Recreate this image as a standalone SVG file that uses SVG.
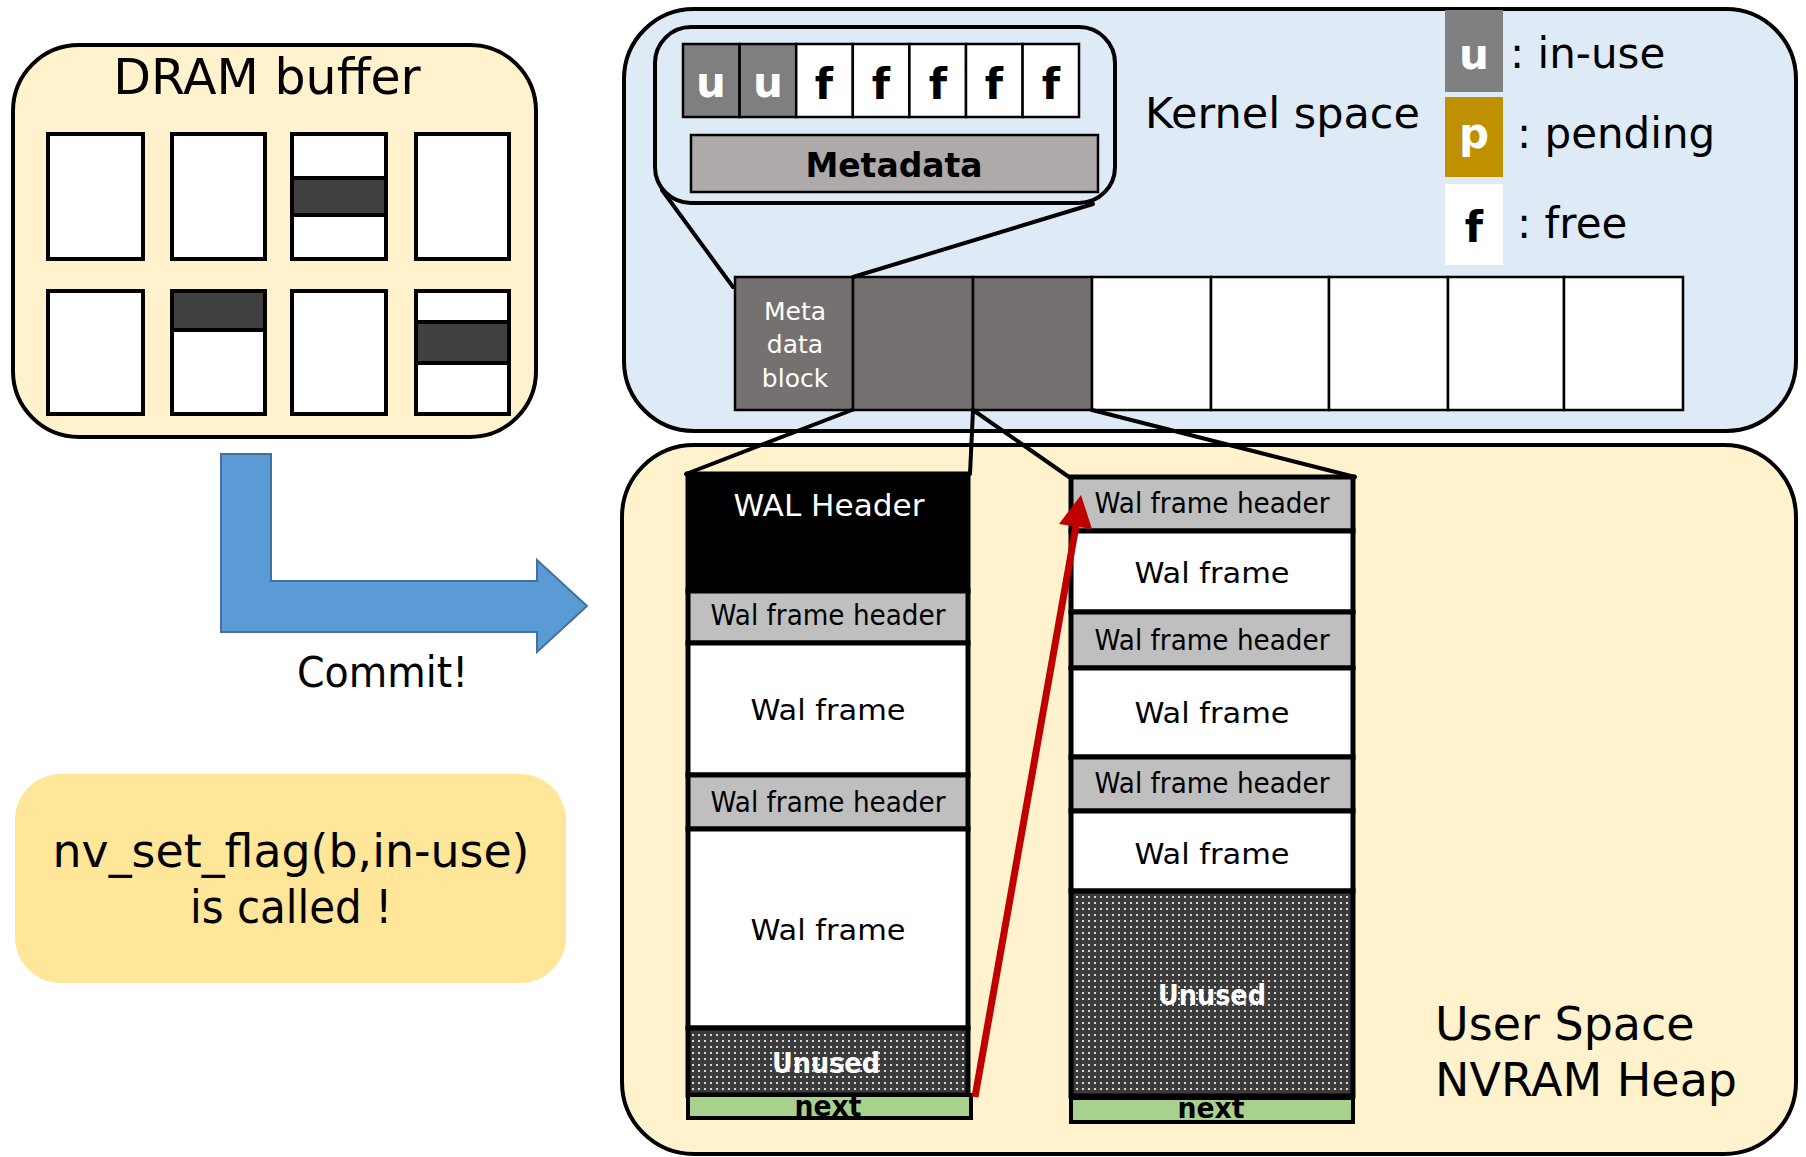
<svg xmlns="http://www.w3.org/2000/svg" width="1806" height="1157" viewBox="0 0 1806 1157">
  <defs>
    <style>
      text { font-family: "DejaVu Sans", "Noto Sans", sans-serif; }
      .box { stroke: #000; stroke-width: 4; }
      .cell { stroke: #000; stroke-width: 2.5; }
      .seg { stroke: #000; stroke-width: 5; }
      .wire { stroke: #000; stroke-width: 4; fill: none; stroke-linecap: round; }
      .mid { text-anchor: middle; }
      .bold { font-weight: bold; }
      .lbl { font-size: 28px; fill: #000; }
    </style>
    <pattern id="dots" width="6" height="6" patternUnits="userSpaceOnUse">
      <rect width="6" height="6" fill="#3b3b3b"/>
      <circle cx="3" cy="3" r="1.1" fill="#ffffff"/>
    </pattern>
  </defs>

  <rect width="1806" height="1157" fill="#ffffff"/>

  <!-- DRAM buffer -->
  <g id="dram-buffer">
    <rect class="box" x="13" y="45" width="523" height="392" rx="66" fill="#fff2cc"/>
    <text x="267" y="94" class="mid" font-size="49">DRAM buffer</text>
    <g fill="#ffffff" stroke="#000" stroke-width="4">
      <rect x="48" y="134" width="95" height="125"/>
      <rect x="172" y="134" width="93" height="125"/>
      <rect x="292" y="134" width="94" height="125"/>
      <rect x="416" y="134" width="93" height="125"/>
      <rect x="48" y="291" width="95" height="123"/>
      <rect x="172" y="291" width="93" height="123"/>
      <rect x="292" y="291" width="94" height="123"/>
      <rect x="416" y="291" width="93" height="123"/>
    </g>
    <g fill="#404040" stroke="#000" stroke-width="4">
      <rect x="292" y="178" width="94" height="37"/>
      <rect x="172" y="291" width="93" height="39"/>
      <rect x="416" y="322" width="93" height="41"/>
    </g>
  </g>

  <!-- Commit arrow -->
  <g id="commit">
    <polygon points="221,454 271,454 271,581 537,581 537,560 587,606 537,652 537,632 221,632" fill="#5b9bd5" stroke="#41719c" stroke-width="2"/>
    <text x="297" y="687" font-size="42" textLength="171" lengthAdjust="spacingAndGlyphs">Commit!</text>
  </g>

  <!-- call note -->
  <g id="call-note">
    <rect x="15" y="774" width="551" height="209" rx="46" fill="#ffe699"/>
    <text x="291" y="867" class="mid" font-size="46" textLength="477" lengthAdjust="spacingAndGlyphs">nv_set_flag(b,in-use)</text>
    <text x="291" y="923" class="mid" font-size="46" textLength="202" lengthAdjust="spacingAndGlyphs">is called !</text>
  </g>

  <!-- Kernel space -->
  <g id="kernel-space">
    <rect class="box" x="624" y="9" width="1172" height="422" rx="70" fill="#deebf7"/>
    <text x="1145" y="128" font-size="43">Kernel space</text>

    <!-- legend -->
    <rect x="1445" y="10" width="58" height="82" fill="#808080"/>
    <rect x="1445" y="97" width="58" height="80" fill="#bf9000"/>
    <rect x="1445" y="184" width="58" height="81" fill="#ffffff"/>
    <text x="1474" y="69" class="mid bold" font-size="42" fill="#ffffff">u</text>
    <text x="1474" y="148" class="mid bold" font-size="42" fill="#ffffff">p</text>
    <text x="1474" y="242" class="mid bold" font-size="42">f</text>
    <text x="1510" y="68" font-size="42">: in-use</text>
    <text x="1517" y="148" font-size="42">: pending</text>
    <text x="1517" y="238" font-size="42">: free</text>

    <!-- block strip -->
    <g class="cell">
      <rect x="735" y="277" width="118" height="133" fill="#767171"/>
      <rect x="853" y="277" width="120" height="133" fill="#767171"/>
      <rect x="973" y="277" width="119" height="133" fill="#767171"/>
      <rect x="1092" y="277" width="119" height="133" fill="#ffffff"/>
      <rect x="1211" y="277" width="118" height="133" fill="#ffffff"/>
      <rect x="1329" y="277" width="119" height="133" fill="#ffffff"/>
      <rect x="1448" y="277" width="116" height="133" fill="#ffffff"/>
      <rect x="1564" y="277" width="119" height="133" fill="#ffffff"/>
    </g>
    <g class="mid" font-size="25" fill="#ffffff">
      <text x="795" y="320">Meta</text>
      <text x="795" y="353">data</text>
      <text x="795" y="387">block</text>
    </g>
  </g>

  <!-- Metadata callout -->
  <g id="metadata-detail">
    <rect class="box" x="655" y="27" width="460" height="176" rx="36" fill="#deebf7"/>
    <g class="cell">
      <rect x="683" y="44" width="56.6" height="73" fill="#7f7f7f"/>
      <rect x="739.6" y="44" width="56.6" height="73" fill="#7f7f7f"/>
      <rect x="796.2" y="44" width="56.6" height="73" fill="#ffffff"/>
      <rect x="852.8" y="44" width="56.6" height="73" fill="#ffffff"/>
      <rect x="909.4" y="44" width="56.6" height="73" fill="#ffffff"/>
      <rect x="966" y="44" width="56.6" height="73" fill="#ffffff"/>
      <rect x="1022.6" y="44" width="56.4" height="73" fill="#ffffff"/>
    </g>
    <g class="mid bold" font-size="42">
      <text x="711" y="97" fill="#ffffff">u</text>
      <text x="768" y="97" fill="#ffffff">u</text>
      <text x="824" y="99">f</text>
      <text x="881" y="99">f</text>
      <text x="938" y="99">f</text>
      <text x="994" y="99">f</text>
      <text x="1051" y="99">f</text>
    </g>
    <rect class="cell" x="691" y="135" width="407" height="57" fill="#aeaaaa"/>
    <text x="894" y="177" class="mid bold" font-size="33">Metadata</text>
  </g>

  <!-- User space NVRAM heap -->
  <g id="user-space">
    <rect class="box" x="622" y="445" width="1174" height="709" rx="72" fill="#fff2cc"/>
    <text x="1435" y="1040" font-size="46">User Space</text>
    <text x="1435" y="1096" font-size="46">NVRAM Heap</text>
  </g>

  <!-- WAL file, first block -->
  <g id="wal-block-1">
    <rect class="seg" x="688" y="474" width="280" height="117" fill="#000000"/>
    <rect class="seg" x="688" y="591" width="280" height="52" fill="#bfbfbf"/>
    <rect class="seg" x="688" y="643" width="280" height="132" fill="#ffffff"/>
    <rect class="seg" x="688" y="775" width="280" height="54" fill="#bfbfbf"/>
    <rect class="seg" x="688" y="829" width="280" height="199" fill="#ffffff"/>
    <rect class="seg" x="688" y="1028" width="280" height="67" fill="url(#dots)"/>
    <rect x="688" y="1095" width="283" height="23" fill="#a9d18e" stroke="#000" stroke-width="4"/>
    <text x="829" y="516" class="mid" font-size="31" fill="#ffffff" textLength="191" lengthAdjust="spacingAndGlyphs">WAL Header</text>
    <text x="828" y="625" class="mid lbl" textLength="235" lengthAdjust="spacingAndGlyphs">Wal frame header</text>
    <text x="828" y="720" class="mid lbl" textLength="155" lengthAdjust="spacingAndGlyphs">Wal frame</text>
    <text x="828" y="812" class="mid lbl" textLength="235" lengthAdjust="spacingAndGlyphs">Wal frame header</text>
    <text x="828" y="940" class="mid lbl" textLength="155" lengthAdjust="spacingAndGlyphs">Wal frame</text>
    <text x="826" y="1073" class="mid bold" font-size="28" fill="#ffffff" textLength="108" lengthAdjust="spacingAndGlyphs">Unused</text>
    <text x="828" y="1116" class="mid bold" font-size="28" textLength="67" lengthAdjust="spacingAndGlyphs">next</text>
  </g>

  <!-- WAL file, second block -->
  <g id="wal-block-2">
    <rect class="seg" x="1071" y="477" width="282" height="54" fill="#bfbfbf"/>
    <rect class="seg" x="1071" y="531" width="282" height="81" fill="#ffffff"/>
    <rect class="seg" x="1071" y="612" width="282" height="56" fill="#bfbfbf"/>
    <rect class="seg" x="1071" y="668" width="282" height="89" fill="#ffffff"/>
    <rect class="seg" x="1071" y="757" width="282" height="54" fill="#bfbfbf"/>
    <rect class="seg" x="1071" y="811" width="282" height="80" fill="#ffffff"/>
    <rect class="seg" x="1071" y="891" width="282" height="205" fill="url(#dots)"/>
    <rect x="1071" y="1098" width="282" height="24" fill="#a9d18e" stroke="#000" stroke-width="4"/>
    <text x="1212" y="513" class="mid lbl" textLength="235" lengthAdjust="spacingAndGlyphs">Wal frame header</text>
    <text x="1212" y="583" class="mid lbl" textLength="155" lengthAdjust="spacingAndGlyphs">Wal frame</text>
    <text x="1212" y="650" class="mid lbl" textLength="235" lengthAdjust="spacingAndGlyphs">Wal frame header</text>
    <text x="1212" y="723" class="mid lbl" textLength="155" lengthAdjust="spacingAndGlyphs">Wal frame</text>
    <text x="1212" y="793" class="mid lbl" textLength="235" lengthAdjust="spacingAndGlyphs">Wal frame header</text>
    <text x="1212" y="864" class="mid lbl" textLength="155" lengthAdjust="spacingAndGlyphs">Wal frame</text>
    <text x="1212" y="1005" class="mid bold" font-size="28" fill="#ffffff" textLength="108" lengthAdjust="spacingAndGlyphs">Unused</text>
    <text x="1211" y="1118" class="mid bold" font-size="28" textLength="67" lengthAdjust="spacingAndGlyphs">next</text>
  </g>

  <!-- connectors -->
  <g id="connectors">
    <line class="wire" x1="662" y1="190" x2="733" y2="287"/>
    <line class="wire" x1="1093" y1="204" x2="853" y2="277"/>
    <line class="wire" x1="852" y1="410" x2="686" y2="474"/>
    <line class="wire" x1="973" y1="410" x2="970" y2="474"/>
    <line class="wire" x1="973" y1="410" x2="1069" y2="477"/>
    <line class="wire" x1="1092" y1="410" x2="1355" y2="477"/>
    <line x1="975" y1="1097" x2="1076" y2="526" stroke="#c00000" stroke-width="7"/>
    <polygon points="1081,495 1092,529 1059,524" fill="#c00000"/>
  </g>
</svg>
